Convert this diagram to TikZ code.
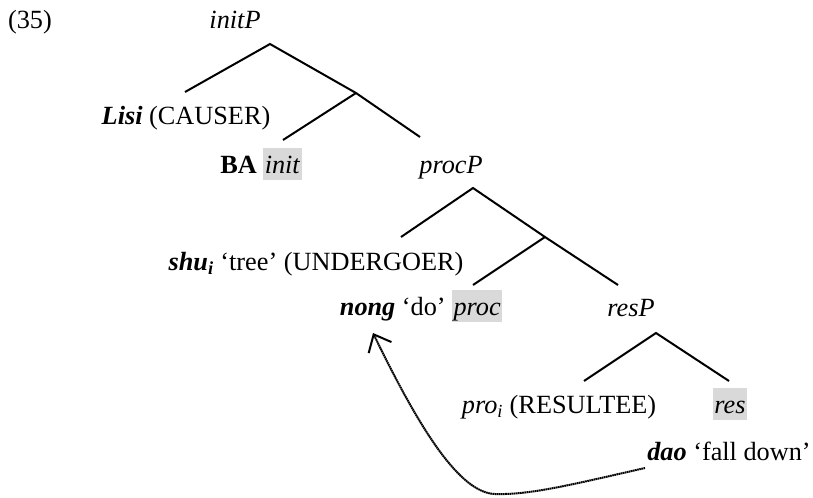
\documentclass[tikz,border=0pt]{standalone}
\usepackage{fontspec}
\setmainfont{Liberation Serif}
\usetikzlibrary{arrows.meta}
\definecolor{hlgray}{HTML}{D9D9D9}
\newcommand\hlw[1]{{\setlength{\fboxsep}{1pt}\colorbox{hlgray}{\rule[-4.25pt]{0pt}{22pt}#1}}}
\begin{document}
\begin{tikzpicture}[x=0.75pt,y=-0.75pt,
  lbl/.style={anchor=base,inner sep=0pt,font=\fontsize{19.7}{24}\selectfont},
  branch/.style={line width=1.5pt},
  mv/.style={line width=1.5pt,dash pattern=on 1.2pt off 0.4pt,
    -{Straight Barb[length=11pt,width=19pt,line width=1.5pt]}}]
\useasboundingbox (0,0) rectangle (813,497);
% labels
\node[lbl] (ex) at (30,28) {(35)};
\node[lbl] (initP) at (235,28) {\textit{initP}};
\node[lbl] (lisi) at (186,124) {\textbf{\textit{Lisi}} (CAUSER)};
\node[lbl] (ba) at (261,173) {\textbf{BA} \hlw{\textit{init}}};
\node[lbl] (procP) at (451,173) {\textit{procP}};
\node[lbl] (shu) at (316,270) {\textbf{\textit{shu\textsubscript{i}}} ‘tree’ (UNDERGOER)};
\node[lbl] (nong) at (421,315) {\textbf{\textit{nong}} ‘do’ \hlw{\textit{proc}}};
\node[lbl] (resP) at (631,316) {\textit{resP}};
\node[lbl] (pro) at (559,413) {\textit{pro\textsubscript{i}} (RESULTEE)};
\node[lbl] (res) at (730,413) {\hlw{\textit{res}}};
\node[lbl] (dao) at (729,460) {\textbf{\textit{dao}} ‘fall down’};
% branch points
\coordinate (j0) at (270,44);
\coordinate (j1) at (356,93);
\coordinate (elisi) at (185,92);
\coordinate (eba) at (283,140);
\coordinate (eproc) at (420,137);
\coordinate (j2) at (473,188);
\coordinate (j3) at (545,237);
\coordinate (eshu) at (401,237);
\coordinate (enong) at (473,285);
\coordinate (eresP) at (618,285);
\coordinate (j4) at (656,333);
\coordinate (epro) at (584,381);
\coordinate (eres) at (729,381);
\coordinate (mvstart) at (645,468);
\coordinate (mvbot) at (495,494);
\coordinate (mvtip) at (373,333);
% tree
\draw[branch] (elisi) -- (j0) -- (j1) -- (eproc);
\draw[branch] (j1) -- (eba);
\draw[branch] (eshu) -- (j2) -- (j3) -- (eresP);
\draw[branch] (j3) -- (enong);
\draw[branch] (epro) -- (j4) -- (eres);
% movement arrow
\draw[mv] (mvstart) .. controls (570,485) and (530,495) .. (mvbot)
  .. controls (460,493) and (420,430) .. (mvtip);
\end{tikzpicture}
\end{document}
